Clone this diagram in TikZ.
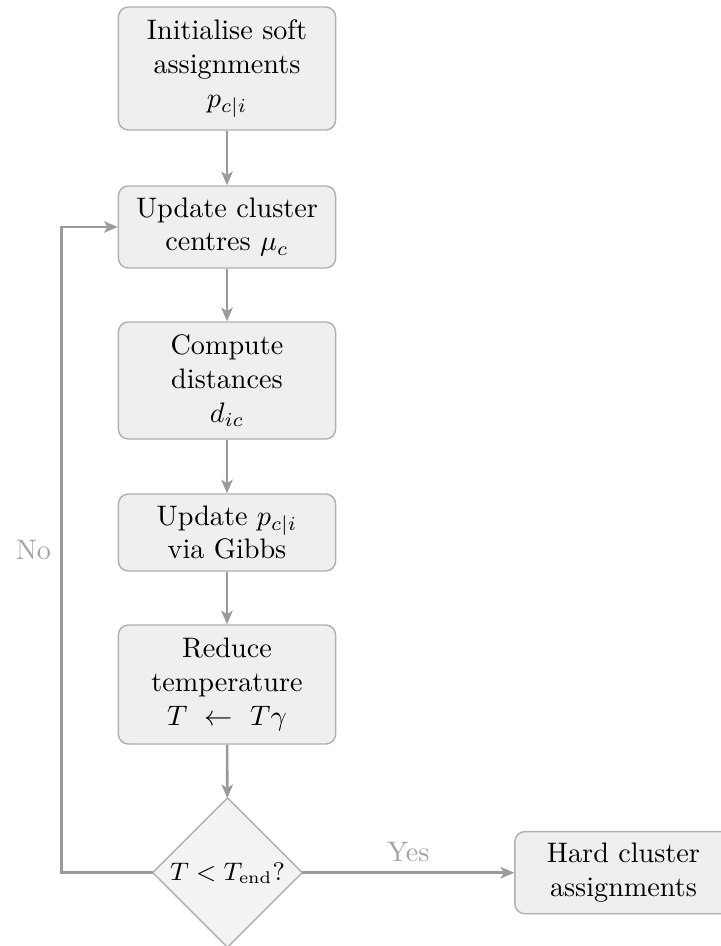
\documentclass[tikz,border=0pt]{standalone}
\usetikzlibrary{shapes.geometric,arrows.meta}

\definecolor{boxfill}{HTML}{EFEFEF}
\definecolor{decfill}{HTML}{F3F3F3}
\definecolor{boxline}{HTML}{B0B0B0}
\definecolor{flowline}{HTML}{9A9A9A}
\definecolor{labelgray}{HTML}{A3A3A3}

\tikzset{
  stepbox/.style={draw=boxline, fill=boxfill, line width=0.5pt,
    rounded corners=3.5pt, align=center, minimum width=77pt,
    inner sep=2pt},
  decision/.style={draw=boxline, fill=decfill, line width=0.5pt,
    diamond, aspect=1, minimum width=53pt, minimum height=53pt,
    inner sep=0pt, outer sep=0pt, align=center, font=\small},
  flow/.style={draw=flowline, line width=0.9pt,
    -{Stealth[length=4.8pt,width=4pt,inset=1.2pt]}},
  branchlabel/.style={text=labelgray}
}

\begin{document}
\begin{tikzpicture}[x=0.3546pt, y=-0.3546pt]
  \useasboundingbox (0,0) rectangle (721,946);
  \clip (0,0) rectangle (721,946);

  % main chain of steps
  \node[stepbox, minimum height=43.6pt] (init) at (227,68.5)
    {Initialise soft\\assignments\\$p_{c|i}$};
  \node[stepbox, minimum height=29.1pt] (centres) at (227,227)
    {Update cluster\\centres $\mu_c$};
  \node[stepbox, minimum height=41.5pt] (dist) at (227,380.5)
    {Compute\\distances\\$d_{ic}$};
  \node[stepbox, minimum height=27.3pt] (gibbs) at (227,532.5)
    {Update $p_{c|i}$\\via Gibbs};
  \node[stepbox, minimum height=42.2pt] (temp) at (227,684.5)
    {Reduce\\temperature\\$T \ \leftarrow\ T\gamma$};
  \node[decision] (check) at (227.5,872.7) {$T<T_{\mathrm{end}}$?};
  \node[stepbox, minimum height=29.1pt] (hard) at (623.5,872.7)
    {Hard cluster\\assignments};

  \coordinate (loopturn) at (61.7,872.7);

  % connectors
  \draw[flow] (init) -- (centres);
  \draw[flow] (centres) -- (dist);
  \draw[flow] (dist) -- (gibbs);
  \draw[flow] (gibbs) -- (temp);
  \draw[flow] (temp) -- (check);
  \draw[flow] (check) -- node[above, branchlabel] {Yes} (hard);
  \draw[flow] (check.west) -- (loopturn) |- node[near start, left, branchlabel] {No} (centres.west);
\end{tikzpicture}
\end{document}
